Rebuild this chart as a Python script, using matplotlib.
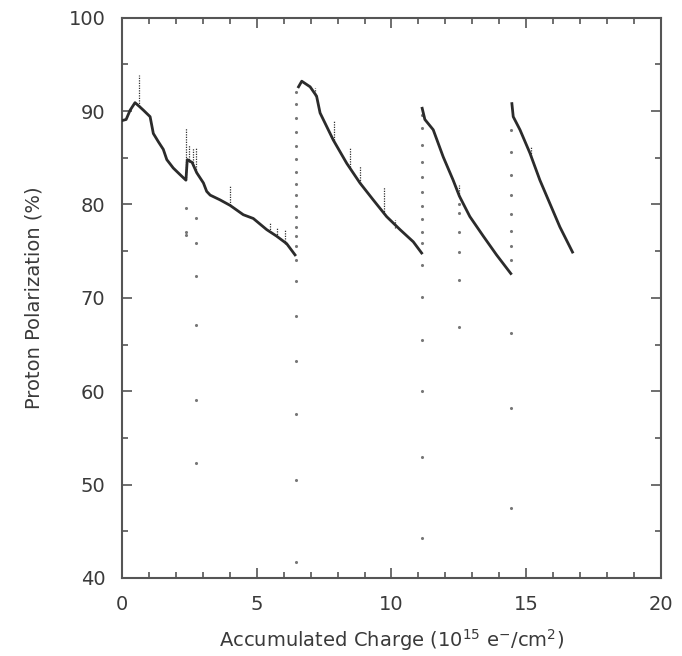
# -*- coding: utf-8 -*-
"""Proton polarization versus accumulated charge."""

import matplotlib
matplotlib.use("Agg")
import matplotlib.pyplot as plt
from matplotlib.ticker import MultipleLocator

# main decay curves, one list pair per target anneal
seg1_x = [0.02, 0.15, 0.30, 0.48, 0.64, 0.79, 1.04, 1.16, 1.35, 1.53, 1.66,
          1.90, 2.15, 2.37, 2.42, 2.60, 2.77, 3.02, 3.14, 3.27, 3.63, 4.01,
          4.50, 4.87, 5.37, 5.74, 6.11, 6.42]
seg1_y = [89.0, 89.1, 90.1, 90.9, 90.5, 90.1, 89.4, 87.6, 86.7, 85.9, 84.8,
          83.9, 83.2, 82.6, 84.8, 84.5, 83.4, 82.3, 81.4, 81.0, 80.5, 79.9,
          78.9, 78.5, 77.3, 76.6, 75.8, 74.6]

seg2_x = [6.55, 6.67, 6.98, 7.22, 7.35, 7.84, 8.34, 8.83, 9.32, 9.82,
          10.32, 10.81, 11.12]
seg2_y = [92.6, 93.2, 92.6, 91.6, 89.8, 86.9, 84.4, 82.3, 80.5, 78.7,
          77.3, 76.0, 74.8]

seg3_x = [11.14, 11.24, 11.55, 11.92, 12.29, 12.52, 12.91, 13.41, 13.90, 14.43]
seg3_y = [90.3, 89.1, 88.0, 85.1, 82.6, 80.9, 78.7, 76.6, 74.6, 72.6]

seg4_x = [14.47, 14.52, 14.77, 15.14, 15.51, 15.88, 16.25, 16.72]
seg4_y = [90.8, 89.4, 88.0, 85.5, 82.6, 80.1, 77.6, 74.9]

# short upward excursions on the curves (x, bottom, top)
spike_x = [0.64, 2.37, 2.50, 2.62, 2.75, 4.01, 5.50, 5.75, 6.05,
           7.16, 7.86, 8.46, 8.83, 9.72, 10.13, 12.52, 15.19]
spike_lo = [90.5, 82.6, 84.5, 84.2, 83.5, 79.9, 77.0, 76.5, 75.8,
            91.6, 86.9, 84.0, 82.3, 79.0, 77.5, 80.9, 85.2]
spike_hi = [93.9, 88.2, 86.4, 86.0, 86.2, 82.1, 78.0, 77.6, 77.4,
            92.5, 88.9, 86.1, 84.1, 81.9, 78.3, 82.1, 86.1]

# isolated readings during the anneal jumps
stray_x = [2.37, 2.37, 2.37, 2.75, 2.75, 2.75, 2.75, 2.75, 2.75,
           6.45, 6.45, 6.45, 6.45, 6.45, 6.45, 6.45, 6.45, 6.45, 6.45, 6.45,
           6.45, 6.45, 6.45, 6.45, 6.45, 6.45, 6.45, 6.45, 6.45, 6.45,
           11.13, 11.13, 11.13, 11.13, 11.13, 11.13, 11.13, 11.13, 11.13,
           11.13, 11.13, 11.13, 11.13, 11.13, 11.13, 11.13,
           12.50, 12.50, 12.50, 12.50, 12.50, 12.50,
           14.43, 14.43, 14.43, 14.43, 14.43, 14.43, 14.43, 14.43, 14.43,
           14.43, 14.43]
stray_y = [79.6, 77.0, 76.7, 78.6, 75.9, 72.3, 67.1, 59.1, 52.3,
           75.6, 76.6, 77.6, 78.7, 79.8, 81.0, 82.2, 83.5, 84.9, 86.3, 87.8,
           89.3, 90.8, 92.0, 71.8, 68.0, 63.2, 57.6, 50.5, 41.7, 74.0,
           75.9, 77.1, 78.4, 79.8, 81.3, 82.9, 84.6, 86.4, 88.2, 73.5,
           70.1, 65.5, 60.0, 53.0, 44.3, 89.6,
           79.1, 77.1, 74.9, 71.9, 66.9, 80.0,
           74.0, 75.5, 77.2, 79.0, 81.0, 83.2, 85.6, 88.0, 66.2, 58.2,
           47.5]

ink = "#2b2b2b"
grey = "#555555"
text = "#3a3a3a"


def main():
    plt.rcParams["font.family"] = "DejaVu Sans"
    fig = plt.figure(figsize=(6.82, 6.56), dpi=100)
    ax = fig.add_axes([0.179, 0.119, 0.790, 0.854])

    ax.scatter(stray_x, stray_y, s=1.5, color="#777777", zorder=2)
    ax.vlines(spike_x, spike_lo, spike_hi, colors="#333333",
              linestyles=(0, (1, 1)), linewidth=0.9, zorder=2)

    for xs, ys in [(seg1_x, seg1_y), (seg2_x, seg2_y),
                   (seg3_x, seg3_y), (seg4_x, seg4_y)]:
        ax.plot(xs, ys, color=ink, linewidth=2.0, zorder=3)

    ax.set_xlim(0, 20)
    ax.set_ylim(40, 100)
    ax.xaxis.set_major_locator(MultipleLocator(5))
    ax.xaxis.set_minor_locator(MultipleLocator(1))
    ax.yaxis.set_major_locator(MultipleLocator(10))
    ax.yaxis.set_minor_locator(MultipleLocator(5))
    ax.tick_params(which="both", direction="in", top=True, right=True,
                   color=grey, labelsize=14, labelcolor=text, pad=12)
    ax.tick_params(which="major", length=7, width=1.2)
    ax.tick_params(which="minor", length=4, width=1.2)
    for sp in ax.spines.values():
        sp.set_color(grey)
        sp.set_linewidth(1.5)

    ax.set_xlabel("Accumulated Charge (10$^{15}$ e$^{-}$/cm$^{2}$)",
                  fontsize=14, color=text, labelpad=10)
    ax.set_ylabel("Proton Polarization (%)", fontsize=14, color=text,
                  labelpad=18)

    fig.savefig("out.png", dpi=100)


if __name__ == "__main__":
    main()
